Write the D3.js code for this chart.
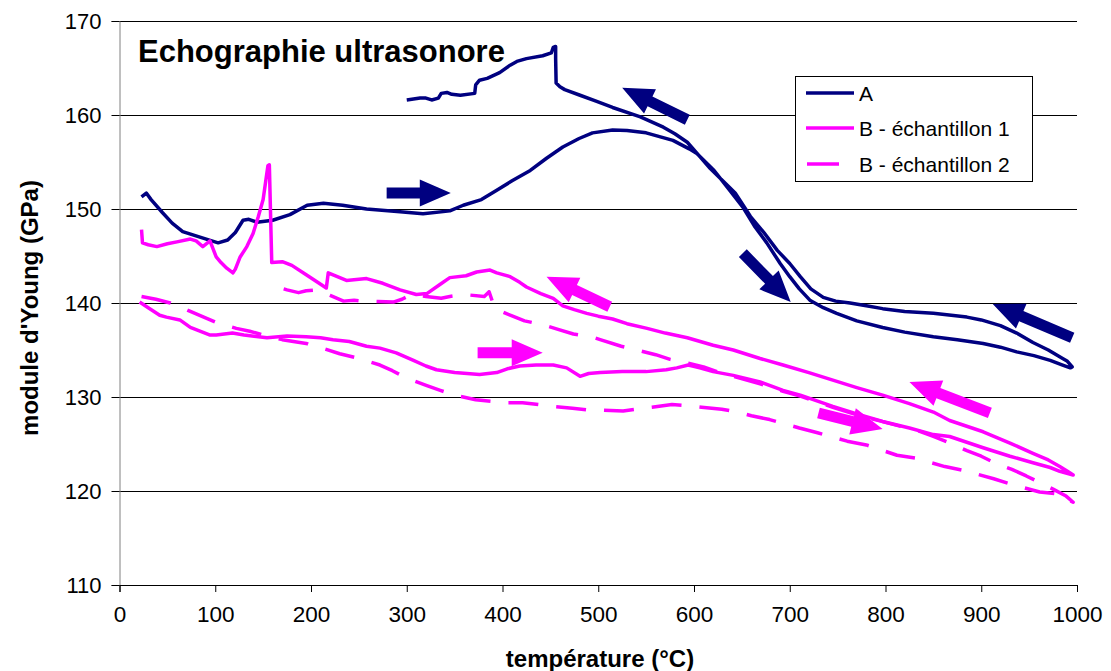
<!DOCTYPE html>
<html><head><meta charset="utf-8">
<script src="https://cdn.jsdelivr.net/npm/d3@7"></script>
<style>html,body{margin:0;padding:0;background:#fff;}svg{display:block;}</style>
</head><body>
<svg id="chart" width="1111" height="671"></svg>
<script>
const chartTitle = "Echographie ultrasonore";
const xTitle = "température (°C)";
const yTitle = "module d'Young (GPa)";
const xTicks = [0,100,200,300,400,500,600,700,800,900,1000];
const yTicks = [110,120,130,140,150,160,170];
const seriesNames = ["A","B - échantillon 1","B - échantillon 2"];

// Series A: heating then cooling [T, E]
const seriesA = [[23,151.3],[28,151.7],[33,151.0],[45,149.6],[55,148.5],[66,147.6],[84,147.0],[103,146.4],[113,146.7],[121,147.5],[129,148.8],[135,148.9],[143.5,148.6],[160,148.8],[178,149.4],[196,150.4],[213,150.6],[233,150.4],[258,150.0],[293,149.7],[317,149.5],[345,149.8],[359,150.4],[378,151.0],[394,152.0],[410,153.0],[429,154.1],[446,155.4],[463,156.6],[480,157.5],[494,158.1],[515,158.4],[530,158.35],[550,158.1],[578,157.3],[595,156.4],[603,155.9],[621,154.1],[638,151.9],[651,150.2],[663,148.2],[676,146.4],[690,144.2],[700,142.8],[710,141.5],[721,140.3],[735,139.5],[749,138.9],[770,138.1],[797,137.4],[820,136.9],[850,136.4],[875,136.1],[902,135.7],[920,135.3],[937,134.8],[955,134.4],[972,133.9],[985,133.4],[993,133.1],
[995,133.2],[990,133.8],[985,134.1],[970,135.0],[954,135.8],[937,136.8],[920,137.6],[900,138.2],[885,138.5],[850,138.9],[820,139.1],[797,139.4],[780,139.7],[763,140.0],[748,140.2],[735,140.6],[722,141.5],[711,142.8],[700,144.2],[687,145.6],[673,147.5],[659,149.2],[643,151.7],[630,153.0],[617,154.3],[605,155.7],[593,157.1],[580,158.0],[568,158.7],[544,159.8],[515,160.8],[497,161.5],[481,162.1],[465,162.7],[460,163.0],[456,163.4],[455.5,166.0],[455.5,167.3],[453,167.2],[451,166.6],[442,166.3],[425,166.0],[415,165.7],[408,165.3],[397,164.5],[384,163.9],[376,163.7],[372,163.2],[371,162.3],[356,162.1],[347,162.2],[342,162.4],[336,162.3],[333,161.8],[326,161.6],[320,161.8],[314,161.8],[307,161.7],[300,161.6]];

// Series B sample 1: heating then cooling
const seriesB1 = [[21,140.1],[30,139.5],[42,138.7],[49,138.5],[63,138.2],[74,137.4],[84,137.0],[94,136.6],[101,136.6],[118,136.8],[130,136.6],[154,136.3],[175,136.5],[195,136.4],[210,136.3],[223,136.1],[240,135.9],[258,135.4],[272,135.2],[289,134.7],[307,133.9],[320,133.3],[331,132.9],[350,132.6],[376,132.4],[394,132.6],[405,133.0],[418,133.3],[435,133.4],[453,133.4],[467,133.1],[481,132.2],[490,132.5],[502,132.6],[525,132.7],[550,132.7],[571,132.9],[582,133.1],[594,133.4],[606,133.1],[620,132.7],[641,132.3],[669,131.6],[693,130.7],[711,130.2],[745,129.0],[770,128.2],[797,127.4],[825,126.7],[850,126.0],[867,125.8],[902,124.6],[930,123.7],[954,123.0],[972,122.5],[982,122.1],[996,121.7],
[990,122.1],[982,122.6],[970,123.3],[954,124.0],[930,125.1],[902,126.3],[867,127.5],[850,128.4],[825,129.3],[797,130.2],[770,131.0],[745,131.8],[720,132.6],[693,133.4],[669,134.1],[641,135.0],[620,135.5],[593,136.3],[570,136.8],[551,137.3],[530,137.8],[515,138.3],[500,138.6],[488,138.9],[475,139.3],[463,139.7],[453,140.5],[440,141.0],[425,141.7],[418,142.2],[408,142.8],[394,143.2],[387,143.5],[373,143.3],[362,142.9],[345,142.7],[335,142.0],[321,141.0],[310,140.9],[293,141.4],[275,142.1],[258,142.6],[237,142.4],[218,143.2],[216,141.6],[195,143.0],[180,144.0],[170,144.4],[159,144.3],[156.5,154.7],[155,154.6],[150,151.0],[145,149.2],[139.5,147.4],[133,146.0],[126,144.9],[121,143.6],[118.5,143.2],[112,143.7],[106,144.3],[101,144.9],[96,146.2],[94.5,146.6],[87,146.0],[80,146.6],[74,146.8],[60,146.5],[50,146.3],[39,146.0],[30,146.2],[24,146.4],[23,147.8]];

// Series B sample 2: heating then cooling
const seriesB2 = [[23,140.7],[38,140.4],[53,140.0],[63,139.6],[74,139.1],[88,138.5],[101.5,137.9],[112,137.6],[122,137.3],[136,137.0],[150,136.6],[170,136.1],[195,135.7],[202,135.4],[215,135.1],[230,134.6],[250,134.1],[272,133.4],[285,132.8],[300,132.0],[321,131.2],[335,130.7],[350,130.2],[372,129.7],[403,129.4],[421,129.4],[453,129.0],[473,128.8],[490,128.6],[505,128.6],[526,128.5],[540,128.7],[556,128.9],[577,129.2],[590,129.1],[608,128.9],[629,128.7],[645,128.4],[660,128.0],[679,127.6],[710,126.7],[729,126.2],[760,125.3],[780,124.9],[812,123.8],[831,123.5],[862,122.6],[881,122.2],[913,121.3],[932,120.7],[961,119.9],[979,119.7],[996,118.8],
[988,119.5],[975,120.2],[961,120.9],[947,121.6],[932,122.3],[914,123.0],[900,123.7],[885,124.3],[865,125.2],[850,125.8],[834,126.4],[800,127.3],[770,128.1],[745,128.9],[711,130.1],[693,130.6],[669,131.4],[641,132.2],[624,132.7],[610,133.2],[594,133.6],[575,134.0],[560,134.5],[544,134.9],[524,135.4],[502,136.1],[493,136.4],[474,136.7],[458,137.2],[442,137.7],[423,138.1],[408,138.7],[392,139.4],[386,141.2],[381,140.7],[360,140.9],[345,140.7],[336,140.5],[320,140.7],[305,140.9],[295,140.4],[286,140.1],[270,140.15],[254,140.2],[245,140.3],[234,140.2],[220,140.8],[206,141.4],[195,141.3],[187,141.1],[175,141.4],[165,141.7],[157,141.6]];

// Direction arrows: [tailT, tailE, tipT, tipE, series index]
const arrows = [[279,151.7,346,151.7,0],[593,159.5,525,162.9,0],[651,145.3,701,140.1,0],[995,136.3,912,139.9,0],
[374,134.7,442,134.7,1],[512,139.6,446,142.8,1],[730,128.3,797,126.6,1],[909,128.3,825,131.6,1]];

const colors = ["#000080","#FF00FF","#FF00FF"];
const font = "Arial, 'Liberation Sans', sans-serif";

const svg = d3.select("#chart");
const L = 119.5, R = 1077, T = 21, B = 585;
const x = d3.scaleLinear().domain([0,1000]).range([L,R]);
const y = d3.scaleLinear().domain([110,170]).range([B,T]);

// gridlines
svg.append("g").selectAll("line").data(yTicks.filter(d=>d>110)).join("line")
  .attr("x1",L).attr("x2",R).attr("y1",d=>Math.round(y(d))+0.5).attr("y2",d=>Math.round(y(d))+0.5)
  .attr("stroke","#000").attr("stroke-width",1);

// y axis
const yAxis = svg.append("g").attr("transform",`translate(${L},0)`)
  .call(d3.axisLeft(y).tickValues(yTicks).tickSize(8).tickPadding(10).tickFormat(d3.format("d")));
yAxis.select(".domain").attr("stroke","#808080");
yAxis.selectAll(".tick line").attr("stroke","#000");
yAxis.selectAll("text").attr("font-family",font).attr("font-size",22).attr("fill","#000");

// x axis
const xAxis = svg.append("g").attr("transform",`translate(0,${B})`)
  .call(d3.axisBottom(x).tickValues(xTicks).tickSize(7).tickPadding(14).tickFormat(d3.format("d")));
xAxis.select(".domain").attr("stroke","#000");
xAxis.selectAll(".tick line").attr("stroke","#000");
xAxis.selectAll("text").attr("font-family",font).attr("font-size",22.5).attr("fill","#000");

const line = d3.line().x(d=>x(d[0])).y(d=>y(d[1])).curve(d3.curveLinear);
const allSeries = [seriesA, seriesB1, seriesB2];
allSeries.forEach((s,i)=>{
  svg.append("path").datum(s).attr("d",line).attr("fill","none")
    .attr("stroke",colors[i]).attr("stroke-width",3.5).attr("stroke-linejoin","round")
    .attr("stroke-dasharray", i===2 ? "30,18" : null);
});

// arrows
arrows.forEach(a=>{
  const x0=x(a[0]), y0=y(a[1]), x1=x(a[2]), y1=y(a[3]);
  const dx=x1-x0, dy=y1-y0, len=Math.hypot(dx,dy);
  const ux=dx/len, uy=dy/len, px=-uy, py=ux;
  const hl=31, hw=13.5, sw=5.5;
  const bx=x1-ux*hl, by=y1-uy*hl;
  const pts=[[x0+px*sw,y0+py*sw],[bx+px*sw,by+py*sw],[bx+px*hw,by+py*hw],[x1,y1],[bx-px*hw,by-py*hw],[bx-px*sw,by-py*sw],[x0-px*sw,y0-py*sw]];
  svg.append("polygon").attr("points",pts.map(p=>p.join(",")).join(" ")).attr("fill",colors[a[4]]);
});

// title
svg.append("text").attr("x",138).attr("y",62).attr("font-family",font).attr("font-weight","bold")
  .attr("font-size",31).text(chartTitle);

// axis titles
svg.append("text").attr("x",600).attr("y",667).attr("text-anchor","middle").attr("font-family",font)
  .attr("font-weight","bold").attr("font-size",24).text(xTitle);
svg.append("text").attr("transform","translate(38,308) rotate(-90)").attr("text-anchor","middle")
  .attr("font-family",font).attr("font-weight","bold").attr("font-size",24).text(yTitle);

// legend
const lg = svg.append("g");
lg.append("rect").attr("x",795.5).attr("y",76.5).attr("width",237).attr("height",105)
  .attr("fill","#fff").attr("stroke","#000").attr("stroke-width",1);
const ly = [93,128,164];
seriesNames.forEach((n,i)=>{
  lg.append("line").attr("x1",i===2?807:806).attr("x2",i===2?839:854).attr("y1",ly[i]).attr("y2",ly[i])
    .attr("stroke",colors[i]).attr("stroke-width",3.5);
  lg.append("text").attr("x",859).attr("y",ly[i]+8).attr("font-family",font).attr("font-size",21).text(n);
});
</script>
</body></html>
